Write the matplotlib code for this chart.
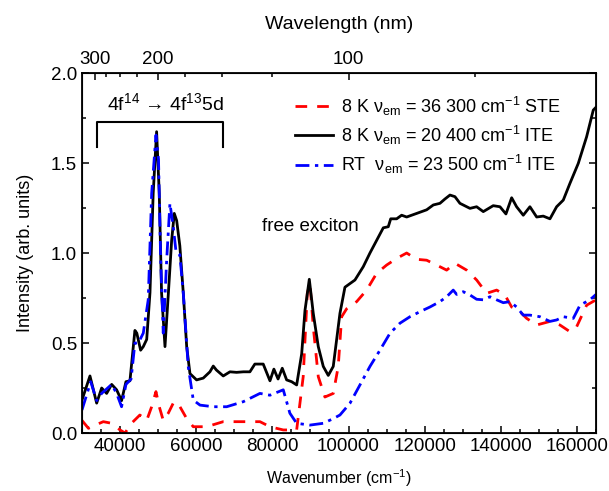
import matplotlib
matplotlib.use("Agg")
import matplotlib.pyplot as plt
from matplotlib.ticker import MultipleLocator, FixedLocator

plt.rcParams['font.family'] = ['Liberation Sans', 'DejaVu Sans']
plt.rcParams['mathtext.fontset'] = 'custom'
plt.rcParams['mathtext.rm'] = 'Liberation Sans'
plt.rcParams['mathtext.it'] = 'Liberation Sans:italic'

# ---- data ----
ite8_x = [30000, 32100, 33860, 35170, 36480, 37800, 39100, 40400, 41550, 42600, 43900, 44400, 45400, 46100,
          47000, 47860, 48700, 49600, 50300, 50900, 51800, 52700, 53550, 54240, 54870, 55700, 56600, 57500,
          58360, 60100, 61850, 63600, 64480, 65300, 67100, 68860, 70600, 72400, 74100, 75400, 77600, 79370,
          80400, 81500, 82600, 83750, 85070, 86380, 87700, 88560, 89700, 90740, 92060, 93370, 94680, 95990,
          97750, 99060, 100370, 101690, 103870, 105630, 107380, 109130, 110440, 111080, 112640, 113950, 115270,
          117900, 120520, 122270, 124010, 125320, 126640, 127950, 129260, 131890, 133640, 135390, 138000,
          139770, 141340, 142840, 144140, 145890, 147640, 149410, 151140, 152900, 154650, 156400, 158150,
          160340, 162530, 164280, 165000]
ite8_y = [0.183, 0.317, 0.166, 0.25, 0.22, 0.27, 0.24, 0.18, 0.285, 0.29, 0.57, 0.555, 0.46, 0.48,
          0.52, 0.78, 1.33, 1.674, 1.33, 0.78, 0.48, 0.78, 1.07, 1.22, 1.18, 1.04, 0.78, 0.48,
          0.33, 0.295, 0.305, 0.34, 0.372, 0.35, 0.317, 0.34, 0.337, 0.34, 0.34, 0.383, 0.383, 0.29,
          0.355, 0.30, 0.36, 0.295, 0.285, 0.267, 0.44, 0.68, 0.854, 0.665, 0.48, 0.37, 0.32, 0.37,
          0.665, 0.81, 0.83, 0.85, 0.924, 1.0, 1.07, 1.14, 1.146, 1.19, 1.19, 1.21, 1.20,
          1.22, 1.24, 1.267, 1.276, 1.30, 1.322, 1.313, 1.276, 1.248, 1.257, 1.23, 1.263,
          1.257, 1.217, 1.307, 1.257, 1.21, 1.257, 1.20, 1.205, 1.19, 1.257, 1.294, 1.387,
          1.498, 1.646, 1.794, 1.81]

rt_x = [30000, 32300, 33860, 35170, 37800, 39100, 40400, 41550, 42900, 43900, 44800, 46100, 47400, 48300,
        49430, 50100, 50670, 51350, 52240, 53100, 53970, 54700, 55700, 56600, 57900, 59230, 61000, 64480,
        68000, 72360, 76740, 79370, 82860, 84600, 86380, 89870, 93370, 96000, 97750, 100370, 103000,
        105630, 108250, 110880, 113500, 116130, 118760, 121380, 124010, 125770, 127500, 128400, 130130,
        131890, 133640, 135390, 137140, 138900, 140640, 142400, 144140, 145890, 147640, 150270, 152900,
        154650, 156400, 159030, 160780, 163400, 165000]
rt_y = [0.128, 0.285, 0.18, 0.22, 0.27, 0.22, 0.146, 0.27, 0.30, 0.50, 0.50, 0.555, 0.74, 1.33,
        1.655, 1.52, 0.96, 0.555, 0.96, 1.276, 1.146, 1.007, 0.99, 0.78, 0.37, 0.183, 0.155, 0.146,
        0.146, 0.174, 0.22, 0.21, 0.24, 0.11, 0.054, 0.044, 0.054, 0.08, 0.10, 0.165, 0.267,
        0.37, 0.46, 0.554, 0.61, 0.646, 0.674, 0.70, 0.73, 0.757, 0.794, 0.77, 0.785,
        0.767, 0.743, 0.74, 0.757, 0.74, 0.724, 0.73, 0.70, 0.655, 0.655, 0.646, 0.62,
        0.628, 0.646, 0.637, 0.71, 0.74, 0.77]

ste8_x = [30000, 31700, 33500, 35600, 37800, 40000, 41300, 43000, 45200, 47000, 48300, 49430, 50300, 51350,
          52660, 54160, 55730, 57500, 59230, 62750, 67100, 72360, 76740, 79370, 82860, 86380, 88100, 89170,
          89870, 90740, 92060, 93800, 96000, 97300, 98200, 99500, 102140, 104760, 107380, 110000, 112640,
          115270, 117900, 120520, 123150, 125770, 127950, 131020, 133650, 136270, 138900, 141080, 142830,
          144580, 146780, 149410, 152900, 155520, 158150, 159900, 162530, 165000]
ste8_y = [0.07, 0.026, 0.044, 0.063, 0.054, 0.017, 0.0, 0.054, 0.10, 0.07, 0.146, 0.23, 0.146, 0.07,
          0.11, 0.174, 0.146, 0.08, 0.035, 0.035, 0.063, 0.063, 0.063, 0.035, 0.017, 0.017, 0.313, 0.776,
          0.83, 0.59, 0.313, 0.20, 0.22, 0.37, 0.646, 0.69, 0.73, 0.794, 0.887, 0.933, 0.97,
          1.0, 0.965, 0.96, 0.933, 0.905, 0.943, 0.905, 0.85, 0.776, 0.794, 0.767, 0.70,
          0.683, 0.637, 0.60, 0.62, 0.60, 0.563, 0.59, 0.71, 0.74]

labels = [r"8 K ν$_{\rm em}$ = 36 300 cm$^{-1}$ STE",
          r"8 K ν$_{\rm em}$ = 20 400 cm$^{-1}$ ITE",
          r"RT  ν$_{\rm em}$ = 23 500 cm$^{-1}$ ITE"]

wl_major = [300, 200, 100]
wl_minor = [275, 250, 225, 175, 150, 125, 75]

xlim = (30000, 165000)
ylim = (0.0, 2.0)

# ---- figure ----
fig = plt.figure(figsize=(6.09, 4.91), dpi=100)
ax = fig.add_axes([0.1346, 0.1181, 0.8441, 0.7332])

l1, = ax.plot(ste8_x, ste8_y, color='#ff0000', lw=2.0, ls=(0, (4.2, 3.6)))
l2, = ax.plot(ite8_x, ite8_y, color='black', lw=2.0)
l3, = ax.plot(rt_x, rt_y, color='#0000ff', lw=2.0, ls=(0, (5, 2, 1.2, 2)))

ax.set_xlim(*xlim)
ax.set_ylim(*ylim)
ax.xaxis.set_major_locator(MultipleLocator(20000))
ax.xaxis.set_minor_locator(MultipleLocator(5000))
ax.yaxis.set_major_locator(MultipleLocator(0.5))
ax.yaxis.set_minor_locator(MultipleLocator(0.25))
ax.yaxis.set_major_formatter(plt.FuncFormatter(lambda v, p: f"{v:.1f}"))
ax.tick_params(which='both', direction='in', right=True, top=False, labelsize=13.5, width=1.1)
ax.tick_params(which='major', length=5)
ax.tick_params(which='minor', length=3)
for s in ax.spines.values():
    s.set_linewidth(1.3)

ax.set_xlabel(r"Wavenumber (cm$^{-1}$)", fontsize=11.5, labelpad=9)
ax.set_ylabel("Intensity (arb. units)", fontsize=13, labelpad=12)

# top wavelength axis
ax2 = ax.twiny()
ax2.set_xlim(*xlim)
ax2.xaxis.set_major_locator(FixedLocator([1e7 / w for w in wl_major]))
ax2.xaxis.set_minor_locator(FixedLocator([1e7 / w for w in wl_minor]))
ax2.set_xticklabels([str(w) for w in wl_major])
ax2.tick_params(which='both', direction='in', labelsize=13.5, width=1.1)
ax2.tick_params(which='major', length=5)
ax2.tick_params(which='minor', length=3)
ax2.set_xlabel("Wavelength (nm)", fontsize=14, labelpad=16)

# annotations
ax.plot([34000, 34000, 67100, 67100], [1.587, 1.73, 1.73, 1.587], color='black', lw=1.5)
ax.text(52000, 1.835, r"4f$^{14}$ → 4f$^{13}$5d", fontsize=14, ha='center', va='center')
ax.text(90100, 1.146, "free exciton", fontsize=13.5, ha='center', va='center')

leg = ax.legend([l1, l2, l3], labels, loc='upper left', bbox_to_anchor=(0.40, 0.96),
                frameon=False, fontsize=13, handlelength=2.1, handletextpad=0.45,
                labelspacing=0.33, borderaxespad=0)

fig.savefig("out.png", dpi=100)
